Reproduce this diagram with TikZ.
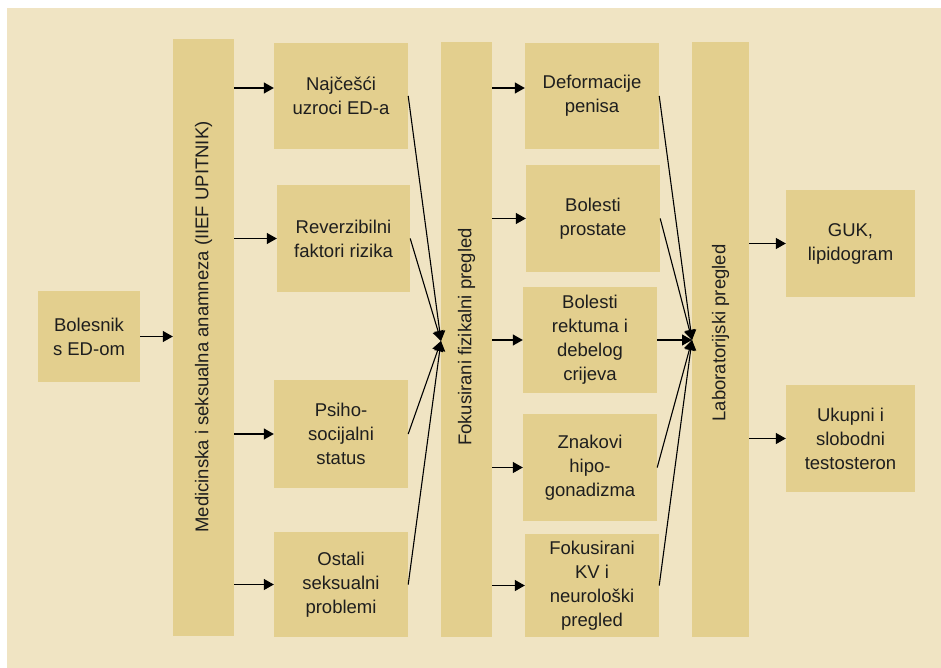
\documentclass[tikz,border=0pt]{standalone}
\usepackage{fontspec}
\setmainfont{Liberation Sans}
\usetikzlibrary{arrows.meta}
\definecolor{pozadina}{RGB}{240,228,195}
\definecolor{kutija}{RGB}{227,207,142}
\definecolor{tekst}{RGB}{30,30,30}

\begin{document}
\begin{tikzpicture}[x=1pt,y=-1pt,
  box/.style={fill=kutija, inner sep=0pt, align=center, text=tekst,
    font=\fontsize{18.5}{24}\selectfont, minimum width=134pt, minimum height=106pt},
  col/.style={fill=kutija, inner sep=0pt, minimum height=595pt},
  coltext/.style={rotate=90, inner sep=0pt, text=tekst, font=\fontsize{18.5}{24}\selectfont},
  arr/.style={-{Triangle[length=10pt,width=11pt]}, line width=1.3pt},
  spoj/.style={-{Triangle[length=10pt,width=11pt]}, line width=1.1pt}]

\useasboundingbox (0,0) rectangle (941,668);
\fill[pozadina] (7,8) rectangle (941,668);

%% Prvi stupac
\node [box, minimum width=102pt, minimum height=91pt] (bol) at (89,336.5) {Bolesnik\\s ED-om};
\node [col, minimum width=61pt, minimum height=597pt] (med) at (203.5,337.5) {};
\node [coltext] (medtxt) at (203.5,327) {Medicinska i seksualna anamneza (IIEF UPITNIK)};

%% Anamneza
\node [box] (najc) at (341,96) {Najčešći\\uzroci ED-a};
\node [box, minimum width=133pt, minimum height=107pt] (rev) at (343.5,238.5) {Reverzibilni\\faktori rizika};
\node [box, minimum height=108pt] (psi) at (341,434) {Psiho-\\socijalni\\status};
\node [box, minimum height=105pt] (ost) at (341,584.5) {Ostali\\seksualni\\problemi};

%% Fizikalni pregled
\node [col, minimum width=51pt] (fok) at (466.5,339.5) {};
\node [coltext] (foktxt) at (466.5,337) {Fokusirani fizikalni pregled};
\node [box] (def) at (592,96) {Deformacije\\penisa};
\node [box, minimum height=107pt] (pro) at (593,218.5) {Bolesti\\prostate};
\node [box] (rek) at (590,340) {Bolesti\\rektuma i\\debelog\\crijeva};
\node [box, minimum height=107pt] (zna) at (590,467.5) {Znakovi\\hipo-\\gonadizma};
\node [box, minimum height=103pt] (kv) at (592,585.5) {Fokusirani\\KV i\\neurološki\\pregled};

%% Laboratorij
\node [col, minimum width=57pt] (lab) at (720.5,339.5) {};
\node [coltext] (labtxt) at (720.5,333) {Laboratorijski pregled};
\node [box, minimum width=129pt, minimum height=107pt] (guk) at (850.5,243.5) {GUK,\\lipidogram};
\node [box, minimum width=129pt, minimum height=107pt] (uku) at (850.5,438.5) {Ukupni i\\slobodni\\testosteron};

\coordinate (fokin) at (441,341);
\coordinate (labin) at (692,340);
\coordinate (najcin) at ([yshift=8pt]najc.west);
\coordinate (defin) at ([yshift=8pt]def.west);

%% Strelice
\draw [arr] (bol.east) -- (bol.east -| med.west);
\draw [arr] (med.east |- najcin) -- (najcin);
\foreach \n in {rev, psi, ost}
  \draw [arr] (med.east |- \n.west) -- (\n.west);
\foreach \n in {najc, rev, psi, ost}
  \draw [spoj] (\n.east) -- (fokin);

\draw [arr] (fok.east |- defin) -- (defin);
\foreach \n in {pro, rek, zna, kv}
  \draw [arr] (fok.east |- \n.west) -- (\n.west);
\foreach \n in {def, pro, rek, zna, kv}
  \draw [spoj] (\n.east) -- (labin);

\draw [arr] (lab.east |- guk.west) -- (guk.west);
\draw [arr] (lab.east |- uku.west) -- (uku.west);

\end{tikzpicture}
\end{document}
